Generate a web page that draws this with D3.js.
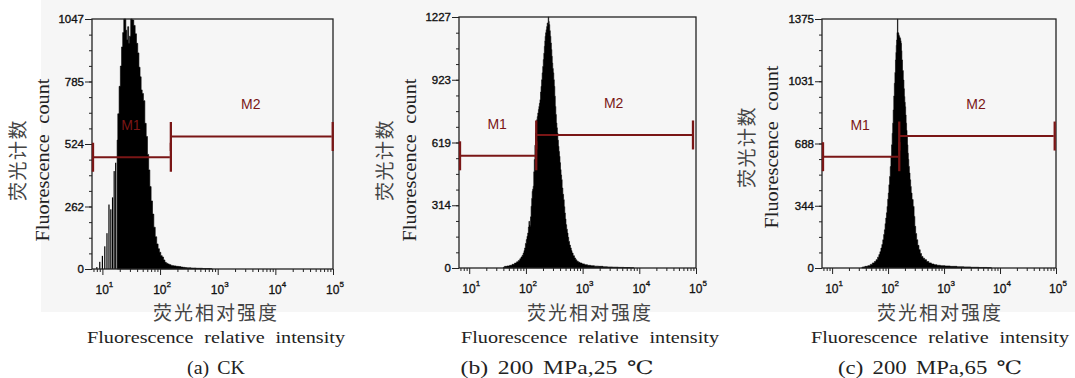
<!DOCTYPE html>
<html>
<head>
<meta charset="utf-8">
<script src="https://d3js.org/d3.v7.min.js"></script>
<style>
    body { margin: 0; background: #fff; }
</style>
</head>
<body>
<script>

    // ---- data ----
    var captions = ['(a) CK', '(b) 200 MPa,25 ℃', '(c) 200 MPa,65 ℃'];
    var yMax = [1047, 1227, 1375];
    var yTickLabels = [
        ['0', '262', '524', '785', '1047'],
        ['0', '314', '619', '923', '1227'],
        ['0', '344', '688', '1031', '1375']
    ];
    var xExponents = [1, 2, 3, 4, 5];
    var gateSplit = [148, 146, 152];
    var gateEnd = [95000, 85000, 91000];

    // CK
    var ckIntensity = [8, 9, 10, 11, 12, 13, 14, 15, 16, 17, 18, 19, 20, 21, 22, 23, 24, 25, 26, 27, 28, 29, 30, 32, 34, 36, 38, 40, 42, 44, 46, 48, 50, 53, 56, 59, 62, 65, 68, 72, 76, 80, 85, 90, 95, 100, 106, 112, 118, 125, 132, 140, 150, 160, 170, 180, 200, 220, 240, 260, 280, 300, 330, 360, 400, 450, 500, 600, 700, 800];
    var ckCount = [8, 30, 55, 95, 150, 270, 250, 300, 410, 445, 540, 650, 765, 850, 930, 990, 1047, 1047, 1000, 960, 1015, 945, 975, 1047, 1043, 1020, 985, 945, 905, 845, 805, 750, 735, 705, 610, 555, 480, 415, 345, 285, 230, 175, 135, 105, 85, 70, 56, 50, 38, 28, 24, 21, 18, 15, 14, 13, 11, 10, 8, 7, 6, 5, 5, 4, 4, 3, 3, 2, 2, 1];

    // 200 MPa, 25 C
    var p25Intensity = [40, 44, 49, 54, 60, 66, 71, 76, 80, 84, 88, 91, 94, 96, 100, 103, 106, 109, 112, 114, 117, 119, 122, 125, 128, 130, 133, 136, 139, 142, 146, 150, 153, 157, 160, 164, 168, 171, 175, 179, 183, 187, 191, 196, 200, 205, 209, 214, 217, 220, 225, 230, 235, 240, 245, 250, 255, 260, 266, 272, 278, 284, 289, 294, 300, 307, 313, 320, 326, 333, 340, 348, 355, 362, 370, 378, 386, 394, 403, 412, 421, 430, 441, 455, 468, 479, 490, 502, 515, 530, 545, 560, 576, 598, 620, 640, 660, 700, 735, 770, 810, 870, 929, 1030, 1141, 1300, 1487, 1750, 2100, 2500, 3000, 3800, 4800, 6000, 8000];
    var p25Count = [4, 8, 10, 13, 18, 24, 30, 37, 45, 54, 62, 73, 85, 98, 120, 139, 155, 171, 200, 228, 210, 204, 250, 302, 340, 375, 385, 400, 470, 530, 600, 660, 700, 725, 740, 758, 775, 790, 805, 823, 860, 888, 920, 954, 985, 1019, 1050, 1084, 1110, 1133, 1150, 1165, 1180, 1198, 1190, 1227, 1205, 1190, 1160, 1133, 1100, 1068, 1035, 1002, 975, 954, 920, 888, 840, 790, 750, 709, 685, 660, 625, 595, 570, 546, 515, 481, 455, 432, 391, 360, 334, 300, 269, 240, 212, 190, 171, 150, 130, 112, 98, 85, 73, 60, 49, 40, 33, 28, 24, 20, 16, 13, 11, 9, 8, 6, 5, 4, 3, 2, 1];

    // 200 MPa, 65 C
    var p65Intensity = [34, 36, 41, 46, 50, 55, 59, 63, 67, 70, 73, 76, 79, 82, 85, 87, 90, 92, 95, 97, 100, 102, 105, 108, 111, 114, 117, 120, 122, 125, 128, 131, 134, 137, 139, 141, 143, 146, 148, 151, 154, 157, 160, 163, 166, 169, 172, 175, 178, 184, 190, 194, 197, 201, 204, 208, 212, 216, 220, 224, 228, 232, 237, 243, 250, 256, 262, 274, 287, 296, 305, 317, 330, 347, 365, 385, 405, 435, 465, 510, 560, 630, 700, 800, 935, 1150, 1450, 2000, 2550, 3500, 5000, 7000];
    var p65Count = [3, 6, 9, 13, 20, 28, 36, 46, 60, 74, 90, 110, 130, 156, 185, 211, 245, 276, 305, 340, 380, 414, 460, 505, 560, 616, 680, 744, 800, 873, 950, 1020, 1080, 1149, 1190, 1230, 1259, 1300, 1375, 1300, 1296, 1285, 1278, 1272, 1268, 1255, 1241, 1200, 1149, 1090, 1038, 990, 947, 915, 891, 845, 800, 760, 726, 680, 634, 600, 561, 525, 487, 450, 414, 378, 340, 285, 230, 190, 156, 125, 101, 80, 64, 54, 46, 36, 28, 22, 18, 15, 13, 11, 9, 7, 6, 4, 3, 2];

    var intensities = [ckIntensity, p25Intensity, p65Intensity];
    var counts = [ckCount, p25Count, p65Count];

    // ---- layout ----
    var w = 1075, h = 378;
    var xDomain = [6.6, 100000];
    var combBelow = 18;   // low channels are drawn as separate thin bars
    var red = '#7a1616';
    var sans = '"Liberation Sans", Arial, sans-serif';
    var serif = '"Liberation Serif", "DejaVu Serif", serif';
    var cjk = '"Noto Sans CJK SC", sans-serif';

    var frames = [
        { left: 92, top: 19, right: 333, bottom: 269, yt1: 18, yt2: 43, ytY: 160, xt: 216 },
        { left: 459, top: 17, right: 696, bottom: 268, yt1: 385, yt2: 410, ytY: 160, xt: 590 },
        { left: 822, top: 19, right: 1056, bottom: 268, yt1: 747, yt2: 772, ytY: 147, xt: 940 }
    ];
    var captionX = [216, 557, 930];
    var captionLen = [58, 193, 184];

    // the scan's serif face is wider than Liberation Serif: stretch to the measured width
    function stretchTo(sel, target) {
        sel.attr('textLength', target).attr('lengthAdjust', 'spacingAndGlyphs');
    }

    var svg = d3.select('body')
        .append('svg')
        .attr('width', w)
        .attr('height', h);

    svg.append('rect')
        .attr('x', 41).attr('y', 0)
        .attr('width', w - 41).attr('height', 312)
        .attr('fill', '#f6f6f6');

    frames.forEach(function (f, k) {
        var x = d3.scaleLog().domain(xDomain).range([f.left, f.right]);
        var y = d3.scaleLinear().domain([0, yMax[k]]).range([f.bottom, f.top]);
        var g = svg.append('g');

        var pts = intensities[k].map(function (v, i) { return { v: v, c: counts[k][i] }; });
        var comb = pts.filter(function (d) { return d.v < combBelow; });
        var body = pts.filter(function (d) { return d.v >= combBelow; });

        // thin separate bars for the low channels
        g.selectAll('rect.bar')
            .data(comb)
            .enter()
            .append('rect')
            .attr('class', 'bar')
            .attr('x', function (d) { return x(d.v) - 0.6; })
            .attr('width', 1.2)
            .attr('y', function (d) { return y(d.c); })
            .attr('height', function (d) { return f.bottom - y(d.c); })
            .attr('fill', '#000');

        // solid histogram body
        var area = d3.area()
            .x(function (d) { return x(d.v); })
            .y0(f.bottom)
            .y1(function (d) { return y(d.c); })
            .curve(d3.curveStep);
        g.append('path')
            .datum(body)
            .attr('d', area)
            .attr('fill', '#000')
            .attr('stroke', '#000')
            .attr('stroke-width', 0.6);

        // frame
        g.append('rect')
            .attr('x', f.left).attr('y', f.top)
            .attr('width', f.right - f.left).attr('height', f.bottom - f.top)
            .attr('fill', 'none')
            .attr('stroke', '#222')
            .attr('stroke-width', 1.3);

        // y axis
        var major = d3.range(5).map(function (i) { return yMax[k] * i / 4; });
        var minor = d3.range(17).map(function (i) { return yMax[k] * i / 16; });
        g.append('g')
            .attr('transform', 'translate(' + f.left + ',0)')
            .call(d3.axisLeft(y).tickValues(minor).tickSize(3).tickSizeOuter(0).tickFormat(''));
        var yAxis = g.append('g')
            .attr('transform', 'translate(' + f.left + ',0)')
            .call(d3.axisLeft(y).tickValues(major).tickSize(7).tickSizeOuter(0).tickPadding(1)
                .tickFormat(function (d, i) { return yTickLabels[k][i]; }));
        yAxis.selectAll('text')
            .attr('font-family', sans)
            .attr('font-size', 11.5)
            .attr('fill', '#111')
            .attr('stroke', '#111')
            .attr('stroke-width', 0.35);

        // x axis (log)
        var xMajor = xExponents.map(function (e) { return Math.pow(10, e); });
        var xMinor = [];
        for (var e = 0; e < 5; e++) {
            for (var m = 2; m < 10; m++) {
                var v = m * Math.pow(10, e);
                if (v >= xDomain[0] && v <= xDomain[1]) xMinor.push(v);
            }
        }
        g.append('g')
            .attr('transform', 'translate(0,' + f.bottom + ')')
            .call(d3.axisBottom(x).tickValues(xMinor).tickSize(3).tickSizeOuter(0).tickFormat(''));
        g.append('g')
            .attr('transform', 'translate(0,' + f.bottom + ')')
            .call(d3.axisBottom(x).tickValues(xMajor).tickSize(6).tickSizeOuter(0).tickFormat(''));
        g.selectAll('.domain').remove();
        g.selectAll('.tick line').attr('stroke', '#222');

        var xl = g.selectAll('text.xl')
            .data(xExponents)
            .enter()
            .append('text')
            .attr('class', 'xl')
            .attr('x', function (d) { return x(Math.pow(10, d)) + 2; })
            .attr('y', f.bottom + 25)
            .attr('text-anchor', 'middle')
            .attr('font-family', sans)
            .attr('font-size', 12)
            .attr('fill', '#111')
            .attr('stroke', '#111')
            .attr('stroke-width', 0.3);
        xl.append('tspan').text('10');
        xl.append('tspan').attr('dy', -7).attr('font-size', 8).text(function (d) { return d; });

        // gates M1 / M2
        var ph = f.bottom - f.top;
        var gates = [
            { name: 'M1', a: xDomain[0], b: gateSplit[k], yy: f.top + 0.553 * ph },
            { name: 'M2', a: gateSplit[k], b: gateEnd[k], yy: f.top + 0.47 * ph }
        ];
        gates.forEach(function (gt) {
            g.append('line')
                .attr('x1', x(gt.a) + 1).attr('x2', x(gt.b))
                .attr('y1', gt.yy).attr('y2', gt.yy)
                .attr('stroke', red).attr('stroke-width', 2);
            [gt.a, gt.b].forEach(function (v) {
                g.append('line')
                    .attr('x1', x(v) + 1).attr('x2', x(v) + 1)
                    .attr('y1', gt.yy - 14.5).attr('y2', gt.yy + 14.5)
                    .attr('stroke', red).attr('stroke-width', 2.3);
            });
            g.append('text')
                .attr('x', x(Math.sqrt(gt.a * gt.b)))
                .attr('y', gt.yy - 32)
                .attr('dy', '0.35em')
                .attr('text-anchor', 'middle')
                .attr('font-family', sans)
                .attr('font-size', 14)
                .attr('fill', red)
                .text(gt.name);
        });

        // axis titles
        svg.append('text')
            .attr('transform', 'translate(' + f.yt1 + ',' + f.ytY + ') rotate(-90)')
            .attr('text-anchor', 'middle')
            .attr('dy', '0.35em')
            .attr('font-family', cjk)
            .attr('font-size', 19)
            .attr('fill', '#444')
            .attr('letter-spacing', 1.5)
            .text('荧光计数');
        var yt = svg.append('text')
            .attr('transform', 'translate(' + f.yt2 + ',' + f.ytY + ') rotate(-90)')
            .attr('text-anchor', 'middle')
            .attr('dy', '0.35em')
            .attr('font-family', serif)
            .attr('font-size', 18)
            .attr('word-spacing', 5)
            .attr('fill', '#222')
            .text('Fluorescence count');
        stretchTo(yt, 163);

        svg.append('text')
            .attr('x', f.xt).attr('y', 320)
            .attr('text-anchor', 'middle')
            .attr('font-family', cjk)
            .attr('font-size', 19)
            .attr('fill', '#444')
            .attr('letter-spacing', 2)
            .text('荧光相对强度');
        var xt = svg.append('text')
            .attr('x', f.xt).attr('y', 343)
            .attr('text-anchor', 'middle')
            .attr('font-family', serif)
            .attr('font-size', 17.5)
            .attr('word-spacing', 5)
            .attr('fill', '#222')
            .text('Fluorescence relative intensity');
        stretchTo(xt, 258);
        var cap = svg.append('text')
            .attr('x', captionX[k]).attr('y', 374)
            .attr('text-anchor', 'middle')
            .attr('font-family', serif)
            .attr('font-size', 18.5)
            .attr('word-spacing', 3)
            .attr('fill', '#222')
            .text(captions[k]);
        stretchTo(cap, captionLen[k]);
    });

</script>
</body>
</html>
